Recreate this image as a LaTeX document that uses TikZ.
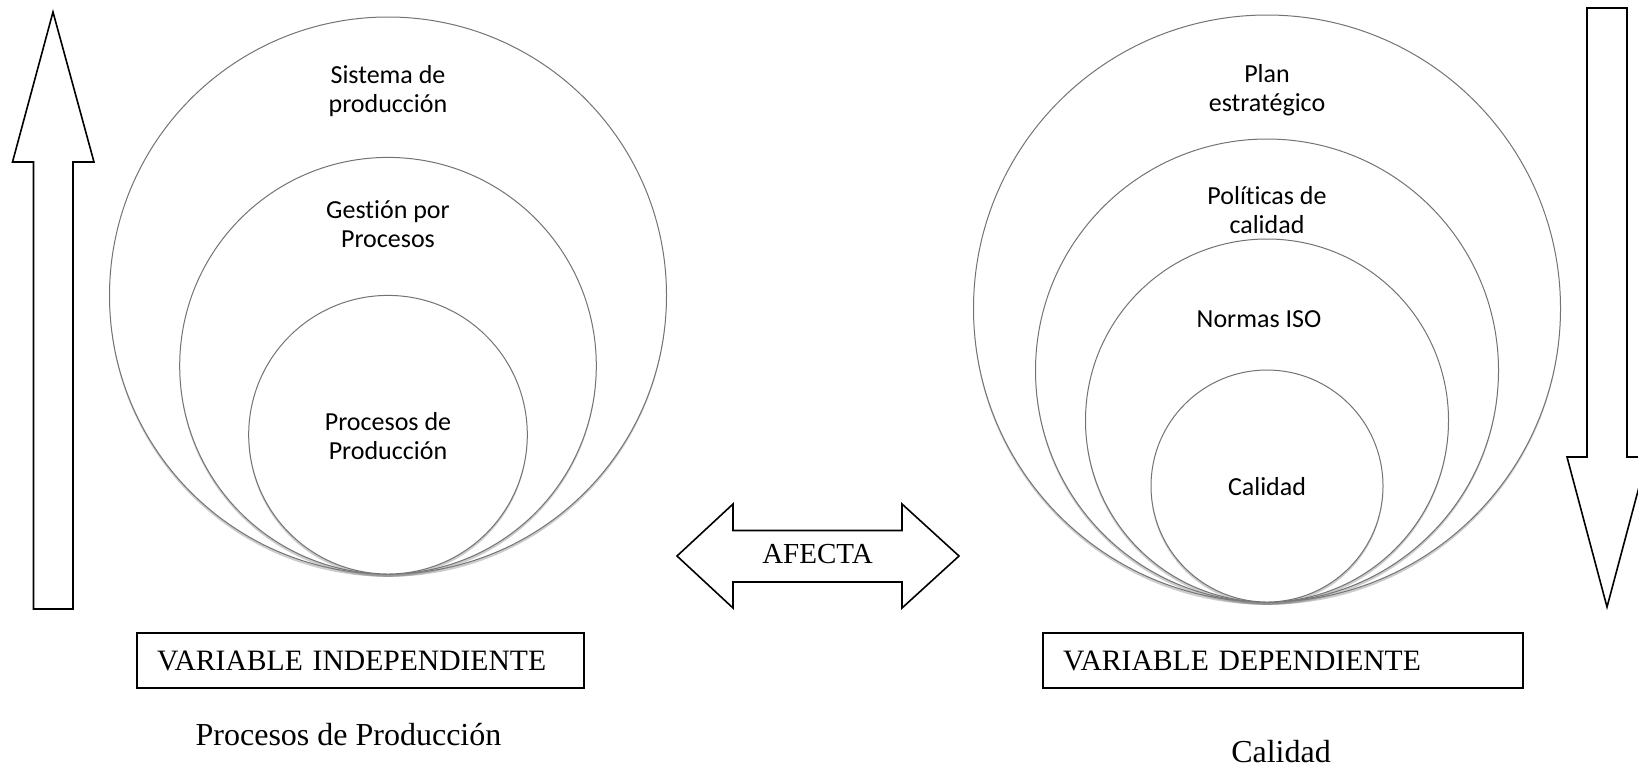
\documentclass[tikz,border=0pt]{standalone}
\usepackage{fontspec}
\setmainfont{Liberation Serif}
\newfontfamily\calibri[Ligatures=NoCommon]{Carlito}
\usepackage{tikz}
\usetikzlibrary{shadows}

\begin{document}
\begin{tikzpicture}[x=0.5pt,y=-0.5pt,semithick]
\tikzstyle{every node}=[]
\tikzstyle{ring}=[circle,draw=black!55,line width=0.5pt,fill=white,inner sep=0pt,
                  drop shadow={opacity=0.4,shadow xshift=0pt,shadow yshift=-1.4pt}]
\tikzstyle{ringtext}=[font=\calibri\fontsize{13}{14.25}\selectfont,align=center]
\tikzstyle{bigarrow}=[draw,line width=0.8pt,fill=white,line join=miter]
\tikzstyle{varbox}=[draw,line width=1pt,minimum height=27.5pt,inner xsep=10pt,
                    align=left,font=\fontsize{14.8}{17}\selectfont]
\tikzstyle{bottomtext}=[anchor=base,font=\fontsize{16}{19}\selectfont]
\useasboundingbox (0,0) rectangle (1638,768);

% left side
\draw[bigarrow] (33.5,609) -- (33.5,162) -- (12.5,162) -- (53,12) -- (94,162)
      -- (73,162) -- (73,609) -- cycle;
\node[ring,minimum size=278.5pt] (L1) at (388,295.5) {};
\node[ring,minimum size=208.3pt] (L2) at (388,365.7) {};
\node[ring,minimum size=139.3pt] (L3) at (388,434.7) {};
\node[ringtext] (SIS) at (388,91) {Sistema de\\producción};
\node[ringtext] (GES) at (388,224) {Gestión por\\Procesos};
\node[ringtext] (PRO) at (388,436) {Procesos de\\Producción};

% middle
\draw[bigarrow] (677,556) -- (733,504) -- (733,530.5) -- (902,530.5) -- (902,504)
      -- (959,556) -- (902,608) -- (902,582) -- (733,582) -- (733,608) -- cycle;
\node[anchor=base,font=\fontsize{14.5}{17}\selectfont] (AFECTA) at (817.5,563) {AFECTA};

% right side
\draw[bigarrow] (1587,8) -- (1627,8) -- (1627,457) -- (1647,457) -- (1607,607)
      -- (1567,457) -- (1587,457) -- cycle;
\node[ring,minimum size=293.5pt] (R1) at (1267,308.5) {};
\node[ring,minimum size=231.5pt] (R2) at (1267,370.5) {};
\node[ring,minimum size=181.5pt] (R3) at (1267,420.5) {};
\node[ring,minimum size=116pt] (R4) at (1267,486) {};
\node[ringtext] (PLAN) at (1267,90) {Plan\\estratégico};
\node[ringtext] (POL) at (1267,210) {Políticas de\\calidad};
\node[ringtext] (ISO) at (1259,319) {Normas ISO};
\node[ringtext] (CAL) at (1267,487) {Calidad};

% boxes and captions
\node[varbox,text width=203.5pt] (VI) at (360.5,660.5) {VARIABLE INDEPENDIENTE};
\node[varbox,text width=220pt] (VD) at (1283,660.5) {VARIABLE DEPENDIENTE};
\node[bottomtext] (VITXT) at (348.5,745) {Procesos de Producción};
\node[bottomtext] (VDTXT) at (1281,762) {Calidad};
\end{tikzpicture}
\end{document}
